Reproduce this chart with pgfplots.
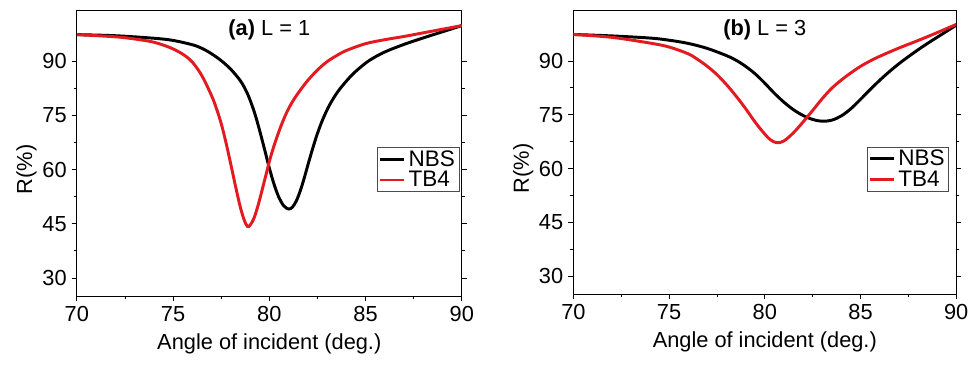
\documentclass[border=0pt]{standalone}
\usepackage{pgfplots}
\pgfplotsset{compat=1.18}
\usepackage{fontspec}
\setmainfont{Liberation Sans}
\definecolor{myred}{RGB}{227,26,32}
\pgfplotsset{
  myaxis/.style={
    scale only axis,
    xmin=70, xmax=90, ymin=25, ymax=104,
    xtick={70,75,80,85,90},
    ytick={30,45,60,75,90},
    minor x tick num=1, minor y tick num=1,
    xtick pos=bottom, ytick pos=both,
    tick align=outside,
    major tick length=1.3mm, minor tick length=0.8mm,
    axis line style={line width=0.6pt},
    every tick/.style={line width=0.6pt, black},
    /pgf/number format/assume math mode=true,
    tick label style={font=\fontsize{15.5}{18}\selectfont},
    label style={font=\fontsize{15.5}{18}\selectfont},
    xlabel={Angle of incident (deg.)},
    ylabel={R(\%)},
    ylabel style={yshift=-1mm, xshift=-4mm},
    xlabel style={yshift=-0.5mm},
    legend style={font=\fontsize{16}{18}\selectfont, draw=black!70, line width=0.6pt,
      inner xsep=1pt, inner ysep=0pt, row sep=-2pt, legend cell align=left},
    legend image post style={line width=2pt},
    every axis plot/.append style={line width=2.1pt, no marks, smooth, tension=0.55},
  }
}
\begin{document}
\begin{tikzpicture}
\begin{axis}[myaxis, at={(0,0)}, anchor=south west, width=96.25mm, height=71.3mm,
  legend style={at={(0.994,0.521)}, anchor=north east}]
\addplot[black] coordinates {
(70,97.4) (72,97.1) (74,96.4) (75,95.8) (76,94.6) (76.5,93.6) (77,92.1) (77.5,90.2) (78,87.8) (78.5,84.6) (78.8,81.8) (79,79.3) (79.25,75.5) (79.5,70.8) (79.75,65.7) (80,60.5) (80.25,55.9) (80.5,52.3) (80.75,50) (81,49.1) (81.2,49.6) (81.4,51.3) (81.6,54) (81.8,57.4) (82,61.2) (82.25,65.8) (82.5,70) (82.8,74.2) (83.16,78.2) (83.6,81.9) (84.2,85.7) (84.7,88.2) (85.24,90.4) (86,92.6) (87,94.7) (88,96.5) (89,98.2) (90,99.9)};
\addlegendentry{NBS}
\addplot[myred] coordinates {
(70,97.4) (72,96.8) (73,96.2) (74,95.3) (74.85,93.8) (75.5,92) (76,89.8) (76.5,86) (77,80.5) (77.25,77) (77.5,72.8) (77.75,67.5) (78,61.5) (78.25,55.3) (78.5,49.5) (78.7,46) (78.86,44.3) (79,44.6) (79.2,46.5) (79.4,49.8) (79.6,53.8) (79.8,58) (80.04,63) (80.3,67.5) (80.6,72) (80.9,75.8) (81.2,78.8) (81.5,81.2) (81.95,84.4) (82.5,87.6) (83,89.9) (83.5,91.6) (84,93) (85,94.9) (86,96) (87,96.9) (88,97.9) (89,98.9) (90,99.9)};
\addlegendentry{TB4}
\node[anchor=north, font=\fontsize{15.5}{18}\selectfont] at (rel axis cs:0.5,0.985) {\textbf{(a)} L = 1};
\end{axis}
\begin{axis}[myaxis, at={(124.15mm,0.5mm)}, anchor=south west, width=95.7mm, height=70.8mm,
  legend style={at={(0.982,0.52)}, anchor=north east}]
\addplot[black] coordinates {
(70,97.4) (72,97) (74,96.4) (75,95.8) (76,94.9) (77,93.5) (78,91.5) (78.5,90.2) (79,88.5) (79.5,86.4) (80,83.8) (80.5,81) (81,78.5) (81.5,76.4) (82,74.8) (82.5,73.7) (82.98,73.2) (83.5,73.5) (84,74.7) (84.5,76.7) (85,79.3) (85.5,82) (86,84.6) (86.5,87) (87,89.2) (87.5,91.2) (88,93.1) (88.5,94.9) (89,96.6) (89.5,98.3) (90,100)};
\addlegendentry{NBS}
\addplot[myred] coordinates {
(70,97.4) (72,96.6) (74,95) (75,93.9) (76,92) (76.5,90.4) (77,88.5) (77.5,86.2) (78,83.4) (78.5,80.2) (79,76.7) (79.5,72.9) (80,69.6) (80.3,68) (80.63,67.2) (81,67.7) (81.5,70) (82,73) (82.5,76.2) (83,79.5) (83.5,82.4) (84,84.7) (84.5,86.7) (85,88.5) (85.5,90) (86,91.3) (87,93.6) (88,95.7) (89,97.9) (90,100.2)};
\addlegendentry{TB4}
\node[anchor=north, font=\fontsize{15.5}{18}\selectfont] at (rel axis cs:0.5,0.985) {\textbf{(b)} L = 3};
\end{axis}
\useasboundingbox (-19.2mm,-18.25mm) rectangle (225.8mm,74mm);
\end{tikzpicture}
\end{document}
